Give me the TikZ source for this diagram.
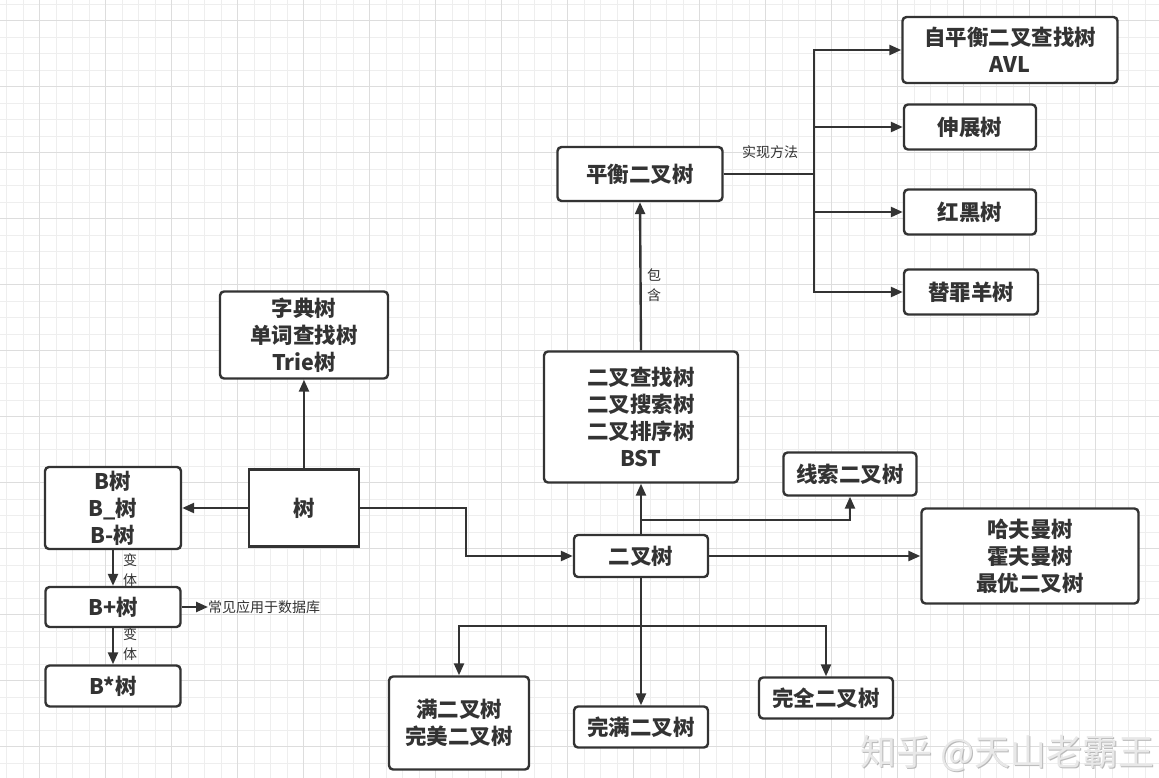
\documentclass[tikz,border=0pt]{standalone}
\usepackage{fontspec}
\newfontfamily\cjk{Noto Sans CJK SC}
\newfontfamily\cjklight{Noto Sans CJK SC Light}
\usetikzlibrary{arrows.meta}
\definecolor{linec}{HTML}{333333}
\definecolor{gridminor}{HTML}{EEEEEE}
\definecolor{gridmajor}{HTML}{DDDDDD}
\tikzset{
  box/.style={draw=linec, line width=2.4pt, rounded corners=4pt, fill=white,
    font=\cjk\bfseries\fontsize{21.5}{27}\selectfont, text=linec, align=center, inner sep=0pt},
  sharpbox/.style={box, rounded corners=0pt},
  arr/.style={draw=linec, line width=2.4pt, -{Triangle[length=12pt,width=10pt]}},
  plain/.style={draw=linec, line width=2.4pt},
  small/.style={font=\cjk\fontsize{14}{20}\selectfont, text=linec, align=center, inner sep=0pt},
  wmark/.style={font=\cjk\fontsize{36}{36}\selectfont, anchor=base west, inner sep=0pt},
}
\begin{document}
\begin{tikzpicture}[x=1pt,y=-1pt]
\useasboundingbox (0,0) rectangle (1159,778);
\fill[white] (0,0) rectangle (1159,778);
% grid
\foreach \i in {0,...,70} \draw[gridminor, line width=0.8pt] ({6.8+16.5*\i},0) -- ++(0,778);
\foreach \i in {0,...,47} \draw[gridminor, line width=0.8pt] (0,{4.3+16.5*\i}) -- ++(1159,0);
\foreach \i in {2,6,...,70} \draw[gridmajor, line width=0.8pt] ({6.8+16.5*\i},0) -- ++(0,778);
\foreach \i in {1,5,...,47} \draw[gridmajor, line width=0.8pt] (0,{4.3+16.5*\i}) -- ++(1159,0);

% nodes
\node[box, minimum width=215pt, minimum height=66pt] (avl) at (1010,50) {自平衡二叉查找树\\AVL};
\node[box, minimum width=132pt, minimum height=45pt] (splay) at (970,127) {伸展树};
\node[box, minimum width=132pt, minimum height=45pt] (rb) at (970,212) {红黑树};
\node[box, minimum width=134pt, minimum height=45pt] (scape) at (971,292) {替罪羊树};
\node[box, minimum width=165pt, minimum height=54pt] (bal) at (640,174) {平衡二叉树};
\node[box, minimum width=168pt, minimum height=87pt] (dict) at (304,335) {字典树\\单词查找树\\Trie树};
\node[sharpbox, minimum width=110pt, minimum height=77pt] (tree) at (304,508) {树};
\node[box, minimum width=136pt, minimum height=82pt] (btree) at (113,508) {B树\\B\_树\\B-树};
\node[box, minimum width=135pt, minimum height=40pt] (bplus) at (113,607) {B+树};
\node[box, minimum width=135pt, minimum height=41pt] (bstar) at (113,686) {B*树};
\node[box, minimum width=194pt, minimum height=131pt] (bst) at (641,417) {二叉查找树\\二叉搜索树\\二叉排序树\\BST};
\node[box, minimum width=134pt, minimum height=42pt] (bt) at (641,556) {二叉树};
\node[box, minimum width=133pt, minimum height=43pt] (thread) at (850,474) {线索二叉树};
\node[box, minimum width=217pt, minimum height=95pt] (huff) at (1030,556) {哈夫曼树\\霍夫曼树\\最优二叉树};
\node[box, minimum width=140pt, minimum height=93pt] (full) at (459,723) {满二叉树\\完美二叉树};
\node[box, minimum width=134pt, minimum height=41pt] (perfect) at (641,727) {完满二叉树};
\node[box, minimum width=134pt, minimum height=41pt] (complete) at (826,698) {完全二叉树};

% labels
\node[small, anchor=west] (dbtext) at (208,607) {常见应用于数据库};
\node[small] (impl) at (770,152) {实现方法};
\node[small] (contain) at (654,285) {包\\含};
\node[small] (var1) at (130,570) {变\\体};
\node[small] (var2) at (130,644) {变\\体};

% connectors
\draw[arr] (tree.east) -- ++(106,0) |- (bt.west);
\draw[arr] (tree.north) -- (dict.south);
\draw[arr] (tree.west) -- (btree.east);
\draw[arr] (btree.south) -- (bplus.north);
\draw[arr] (bplus.south) -- (bstar.north);
\draw[arr] (bplus.east) -- (dbtext.west);
\draw[arr] (bt.north) -- (bst.south);
\coordinate (tj) at (641,520);
\draw[arr] (tj) -| (thread.south);
\draw[arr] (bt.east) -- (huff.west);
\draw[arr] (bt.south) -- (perfect.north);
\coordinate (bj) at (641,626);
\draw[arr] (bj) -| (full.north);
\draw[arr] (bj) -| (complete.north);
\draw[arr] (bst.north) -- (bal.south);
\coordinate (trunk) at (814,174);
\draw[plain] (bal.east) -- (trunk);
\draw[arr] (trunk) |- (avl.west);
\draw[arr] (trunk) |- (splay.west);
\draw[arr] (trunk) |- (rb.west);
\draw[arr] (trunk) |- (scape.west);

% watermark
\node[wmark, text=gray!55] (wm0) at (861.5,766.5) {知乎 @天山老霸王};
\node[wmark, text=gray!18] (wm) at (860,765) {知乎 @天山老霸王};
\end{tikzpicture}
\end{document}
